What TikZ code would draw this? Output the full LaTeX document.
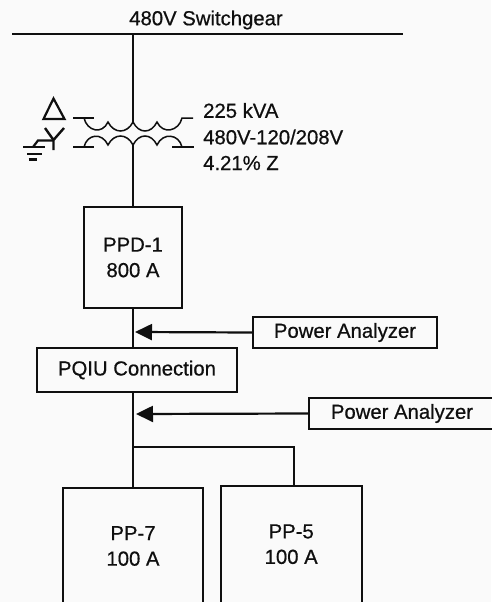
\documentclass[tikz,border=0pt]{standalone}
\usepackage{fontspec}
\setmainfont[FakeBold=0.6]{Liberation Sans}
\usetikzlibrary{arrows.meta}
\definecolor{ink}{gray}{0.06}
\definecolor{paper}{gray}{0.98}
\begin{document}
\begin{tikzpicture}[x=1pt,y=-1pt,
  wire/.style={line width=2.2pt,ink},
  coil/.style={line width=1.5pt,ink},
  boxn/.style={draw=ink,line width=2.2pt,rectangle,inner sep=0pt,align=center,font=\fontsize{20.3}{25.5}\selectfont,text=ink},
  lab/.style={font=\fontsize{20.3}{26}\selectfont,text=ink,inner sep=0pt},
  arrowline/.style={line width=2.2pt,ink,-{Triangle[length=17pt,width=16pt]}}]
\useasboundingbox[fill=paper] (0,0) rectangle (491,602);
\node[lab] (title) at (206,20) {480V Switchgear};
\coordinate (busl) at (12,34); \coordinate (busr) at (403,34);
\draw[wire] (busl) -- (busr);
\coordinate (bust) at (133,34);
\coordinate (tp) at (133,122); \coordinate (ts) at (133,145);
\draw[wire] (bust) -- (tp);
% primary winding
\draw[wire] (73,118) -- (94,118);
\draw[coil] (84,118) .. controls (87,131) and (102,135) .. (108,122)
  .. controls (114,134) and (127,134) .. (133,122)
  .. controls (139,134) and (151,134) .. (157,122)
  .. controls (163,135) and (179,131) .. (182,118) -- (193,118);
% secondary winding
\draw[wire] (73,147) -- (94,147);
\draw[coil] (84,147) .. controls (87,134) and (102,132) .. (108,145)
  .. controls (114,133) and (127,133) .. (133,145)
  .. controls (139,133) and (151,133) .. (157,145)
  .. controls (163,132) and (179,134) .. (182,147);
\draw[wire] (172,147) -- (194,147);
% delta and wye
\draw[line width=2.2pt,ink] (53.5,98.5) -- (64.5,119) -- (43.5,119) -- cycle;
\draw[line width=2.4pt,ink] (45,128) -- (53.5,140) -- (64,128) (53.5,140) -- (53.5,150);
\draw[wire] (53.5,140.5) -- (38,140.5) -- (33,147);
\draw[line width=2.2pt,ink] (23,147) -- (45,147) (27,154) -- (42,154) (28.5,159.5) -- (37,159.5);
\node[boxn,minimum width=98pt,minimum height=101pt] (ppd) at (133,257.5) {PPD-1\\800 A};
\draw[wire] (ts) -- (ppd.north);
\node[lab,anchor=west] (t1) at (203,110.5) {225 kVA};
\node[lab,anchor=west] (t2) at (203,137) {480V-120/208V};
\node[lab,anchor=west] (t3) at (203,163) {4.21\% Z};
\node[boxn,minimum width=200pt,minimum height=44pt] (pqiu) at (137,370) {PQIU Connection};
\draw[wire] (ppd.south) -- (ppd.south |- pqiu.north);
\node[boxn,minimum width=184pt,minimum height=31pt] (pa1) at (345,332.5) {Power Analyzer};
\node[boxn,minimum width=186pt,minimum height=31pt] (pa2) at (402,413.5) {Power Analyzer};
\coordinate (a1) at (135,332); \coordinate (a2) at (136,414);
\draw[arrowline] (pa1.west) -- (a1);
\draw[arrowline] (pa2.west) -- (a2);
\node[boxn,minimum width=139.4pt,minimum height=116pt] (pp7) at (133,546) {PP-7\\100 A};
\node[boxn,minimum width=141pt,minimum height=120pt] (pp5) at (291.2,546) {\raisebox{2pt}{\begin{tabular}{@{}c@{}}PP-5\\100 A\end{tabular}}};
\coordinate (j) at (133,447);
\coordinate (p5in) at (294,486);
\draw[wire] (ppd.south |- pqiu.south) -- (pp7.north);
\draw[wire] (j) -- (j -| p5in) -- (p5in);
\end{tikzpicture}
\end{document}
